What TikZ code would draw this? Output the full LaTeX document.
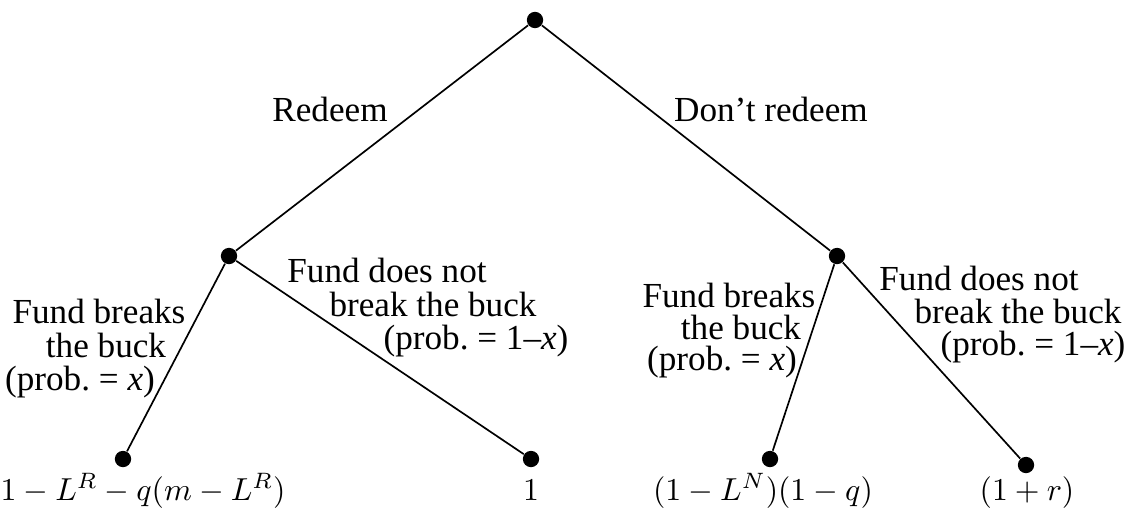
\documentclass[tikz,border=0pt]{standalone}
\usepackage{fix-cm}
\usepackage{amsmath}
\usepackage{fontspec}
\setmainfont{Liberation Serif}
\usepackage{tikz}
\usetikzlibrary{positioning}
\frenchspacing

\begin{document}
\begin{tikzpicture}[
            x=0.0125cm, y=-0.0125cm,
            every node/.style={font=\fontsize{12.5}{13}\selectfont, inner sep=0pt},
            dot/.style={circle, fill=black, minimum size=5.8pt, inner sep=0pt},
            branch/.style={line width=0.6pt},
            payoff/.style={anchor=base, font=\fontsize{11.3}{12}\selectfont}
        ]
        \useasboundingbox (0,0) rectangle (1125,508);

        %================================================
        % Decision nodes and leaves
        %================================================
        \node[dot] (root) at (535,20) {};
        \node[dot] (red) at (229,256) {};
        \node[dot] (nored) at (837,256) {};

        \node[dot] (redB) at (123,459) {};
        \node[dot] (redS) at (531,459) {};
        \node[dot] (noredB) at (770,459) {};
        \node[dot] (noredS) at (1026,465) {};

        \draw[branch] (root) -- (red);
        \draw[branch] (root) -- (nored);
        \draw[branch] (red) -- (redB);
        \draw[branch] (red) -- (redS);
        \draw[branch] (nored) -- (noredB);
        \draw[branch] (nored) -- (noredS);

        %================================================
        % First level: redeem or not
        %================================================
        \node[anchor=base] (lRed) at (330,121) {Redeem};
        \node[anchor=base] (lNored) at (771,121) {Don’t redeem};

        %================================================
        % Second level, left: after redeeming
        %================================================
        \node[anchor=base] (lRedB1) at (99,323) {Fund breaks};
        \node[anchor=base] (lRedB2) at (106,357) {the buck};
        \node[anchor=base] (lRedB3) at (80,390) {(prob. = \textit{x})};

        \node[anchor=base] (lRedS1) at (387,282) {Fund does not};
        \node[anchor=base] (lRedS2) at (433,316) {break the buck};
        \node[anchor=base] (lRedS3) at (476,349) {(prob. = 1–\textit{x})};

        %================================================
        % Second level, right: after not redeeming
        %================================================
        \node[anchor=base] (lNoredB1) at (729,307) {Fund breaks};
        \node[anchor=base] (lNoredB2) at (741,339) {the buck};
        \node[anchor=base] (lNoredB3) at (722,370) {(prob. = \textit{x})};

        \node[anchor=base] (lNoredS1) at (979,290) {Fund does not};
        \node[anchor=base] (lNoredS2) at (1018,323) {break the buck};
        \node[anchor=base] (lNoredS3) at (1033,355) {(prob. = 1–\textit{x})};

        %================================================
        % Payoffs
        %================================================
        \node[payoff] (pRedB) at (143,500) {$1-L^R-q(m-L^R)$};
        \node[payoff] (pRedS) at (531,500) {$1$};
        \node[payoff] (pNoredB) at (763,500) {$(1-L^N)(1-q)$};
        \node[payoff] (pNoredS) at (1027,500) {$(1+r)$};

        \end{tikzpicture}
\end{document}
